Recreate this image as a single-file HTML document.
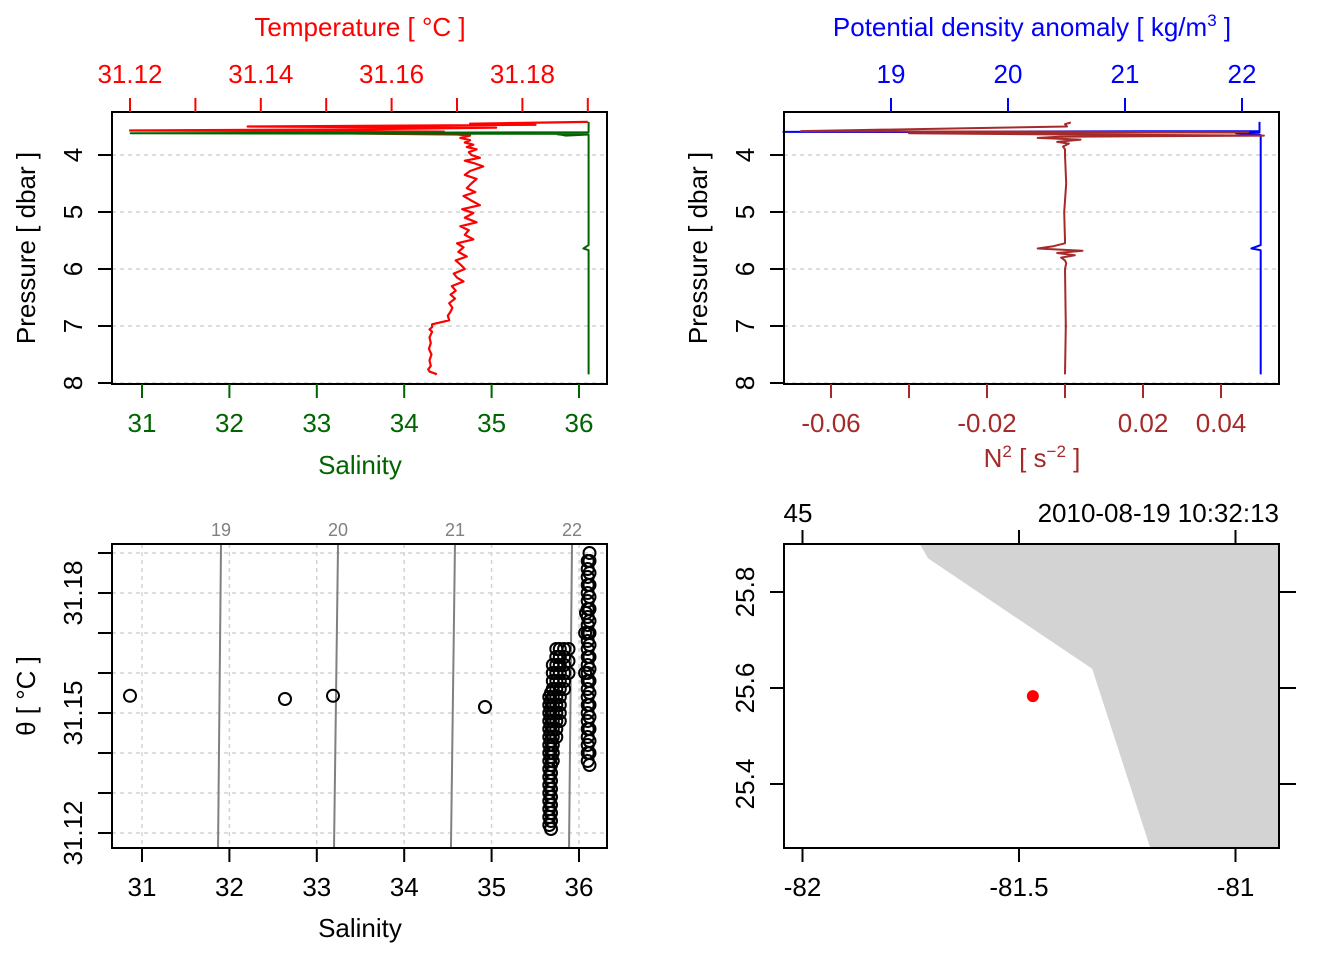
<!DOCTYPE html>
<html><head><meta charset="utf-8"><style>
html,body{margin:0;padding:0;background:#fff;}
svg{display:block;font-family:"Liberation Sans",Arial,sans-serif;}
</style></head><body>
<svg id="s" width="1344" height="960" viewBox="0 0 1344 960" xmlns="http://www.w3.org/2000/svg"></svg>
<script>
// ---------- data ----------
const tPres = [3.42,3.45,3.47,3.50,3.52,3.55,3.57,3.59,3.61,3.62,3.64,3.66,3.70,3.74,3.78,3.82,3.86,3.90,3.95,4.00,4.05,4.10,4.15,4.20,4.28,4.35,4.42,4.50,4.58,4.65,4.72,4.80,4.88,4.95,5.02,5.10,5.18,5.25,5.32,5.40,5.48,5.55,5.62,5.70,5.78,5.85,5.92,6.00,6.08,6.15,6.22,6.30,6.38,6.45,6.52,6.60,6.68,6.75,6.82,6.90,6.97,7.02,7.06,7.10,7.20,7.30,7.40,7.50,7.60,7.70,7.76,7.80,7.84,7.85];
const tempVals = [31.190,31.172,31.182,31.138,31.176,31.155,31.120,31.168,31.140,31.152,31.170,31.172,31.1705,31.1720,31.1712,31.1725,31.1715,31.1730,31.1718,31.1722,31.1735,31.1712,31.1728,31.1740,31.1720,31.1712,31.1730,31.1722,31.1715,31.1728,31.1710,31.1722,31.1735,31.1708,31.1725,31.1712,31.1730,31.1705,31.1718,31.1712,31.1725,31.1700,31.1710,31.1702,31.1715,31.1698,31.1705,31.1712,31.1695,31.1700,31.1710,31.1692,31.1698,31.1690,31.1697,31.1688,31.1693,31.1690,31.1686,31.1688,31.1662,31.1662,31.1658,31.1662,31.1658,31.1660,31.1657,31.1661,31.1658,31.1660,31.1656,31.1658,31.1668,31.1666];
const sPres = [3.42,3.60,3.62,3.63,3.635,3.645,3.66,3.65,3.64,3.64,5.58,5.64,5.67,5.70,7.85];
const salVals = [36.11,36.11,30.87,36.10,35.75,35.80,35.85,36.0,36.11,36.11,36.11,36.05,36.11,36.11,36.11];
const nPres = [3.43,3.46,3.50,3.58,3.60,3.62,3.64,3.66,3.68,3.70,3.73,3.77,3.80,3.85,3.90,4.00,4.50,5.00,5.50,5.55,5.60,5.64,5.68,5.72,5.76,5.80,5.85,5.90,6.00,7.00,7.85];
const n2Vals = [0.0015,0.0,0.0005,-0.0677,0.047,-0.040,0.0,0.051,-0.0015,-0.007,0.004,-0.002,0.001,-0.0005,0.0,0.0,0.0003,-0.0002,0.0,0.0,-0.003,-0.007,0.0045,-0.002,0.0025,-0.001,0.0,0.0003,0.0,0.0002,0.0];
const dPres = [3.42,3.58,3.595,3.605,3.62,3.63,3.635,3.645,3.65,5.58,5.64,5.67,5.70,7.85];
const sigVals = [22.15,22.15,18.08,22.15,21.95,22.05,21.98,22.15,22.16,22.16,22.08,22.16,22.16,22.16];
// TS diagram
const tsSal = [30.863,32.636,33.185,34.924,
35.66,35.66,35.66,35.66,35.66,35.66,35.66,35.66,35.66,35.66,35.66,35.66,35.66,35.66,35.66,35.66,35.66,
35.68,35.68,35.68,35.68,35.68,35.68,35.68,35.68,35.68,35.68,35.68,35.68,35.68,35.68,35.68,35.68,35.68,35.68,
35.70,35.70,35.70,35.70,35.70,35.70,35.70,35.70,35.70,35.70,35.70,35.70,35.70,
35.74,35.74,35.74,35.74,35.74,35.74,35.74,35.74,35.74,35.74,35.74,35.74,
35.78,35.78,35.78,35.78,35.78,35.78,35.78,35.78,35.78,35.78,
35.83,35.83,35.83,35.83,35.83,35.83,
35.88,35.88,35.88,
36.10,36.10,36.10,36.10,36.10,36.10,36.10,36.10,36.10,36.10,36.10,36.10,36.10,36.10,36.10,36.10,36.10,36.10,36.10,36.10,36.10,36.10,36.10,36.10,36.10,36.10,
36.12,36.12,36.12,36.12,36.12,36.12,36.12,36.12,36.12,36.12,36.12,36.12,36.12,36.12,36.12,36.12,36.12,36.12,36.12,
36.07,36.07,36.08];
const tsTheta = [31.1543,31.1535,31.1543,31.1515,
31.122,31.124,31.126,31.128,31.130,31.132,31.134,31.136,31.138,31.140,31.142,31.144,31.146,31.148,31.150,31.152,31.154,
31.121,31.123,31.125,31.127,31.129,31.131,31.133,31.135,31.137,31.139,31.141,31.143,31.145,31.147,31.149,31.151,31.153,31.155,
31.138,31.140,31.142,31.144,31.146,31.148,31.150,31.152,31.154,31.156,31.158,31.160,31.162,
31.144,31.146,31.148,31.150,31.152,31.154,31.156,31.158,31.160,31.162,31.164,31.166,
31.148,31.150,31.152,31.154,31.156,31.158,31.160,31.162,31.164,31.166,
31.156,31.158,31.160,31.162,31.164,31.166,
31.160,31.163,31.166,
31.138,31.140,31.142,31.144,31.146,31.148,31.150,31.152,31.154,31.156,31.158,31.160,31.162,31.164,31.166,31.168,31.170,31.172,31.174,31.176,31.178,31.180,31.182,31.184,31.186,31.188,
31.137,31.140,31.143,31.146,31.149,31.152,31.155,31.158,31.161,31.164,31.167,31.170,31.173,31.176,31.179,31.182,31.185,31.188,31.190,
31.160,31.170,31.175];
const isoLevels = [19,20,21,22];
const isoSalTop = [31.904,33.243,34.581,35.92];
const isoSalBottom = [31.870,33.197,34.535,35.886];
// map
const coastLon = [-81.729,-81.710,-81.331,-81.197,-80.90,-80.90];
const coastLat = [25.90,25.87,25.64,25.267,25.267,25.90];
const stationLon = [-81.468];
const stationLat = [25.583];
const salTicks = [31,32,33,34,35,36];
const tempTicks = [31.12,31.13,31.14,31.15,31.16,31.17,31.18,31.19];
const tempLabels = ["31.12","","31.14","","31.16","","31.18",""];
const presTicks = [4,5,6,7,8];
const sigTicks = [19,20,21,22];
const n2Ticks = [-0.06,-0.04,-0.02,0,0.02,0.04];
const n2Labels = ["-0.06","","-0.02","","0.02","0.04"];
const thetaTicks = [31.12,31.13,31.14,31.15,31.16,31.17,31.18,31.19];
const thetaLabels = ["31.12","","","31.15","","","31.18",""];
const lonTicks = [-82,-81.5,-81];
const latTicks = [25.4,25.6,25.8];

// ---------- helpers ----------
const S = document.getElementById('s');
const NS = 'http://www.w3.org/2000/svg';
function mk(tag, attrs, parent){const e=document.createElementNS(NS,tag);for(const k in attrs)e.setAttribute(k,attrs[k]);(parent||S).appendChild(e);return e;}
function txt(x,y,str,size,fill,anchor,rot,name){
  const t=mk('text',{x:x,y:y,'font-size':size,fill:fill,'text-anchor':anchor||'middle','dominant-baseline':'central'});
  if(rot) t.setAttribute('transform','rotate(-90 '+x+' '+y+')');
  t.textContent=str;
  
  
  return t;
}
function poly(pts,stroke,w,name,fill){
  const p=mk('polyline',{points:pts.map(q=>q[0].toFixed(1)+','+q[1].toFixed(1)).join(' '),fill:fill||'none',stroke:stroke,'stroke-width':w,'stroke-linejoin':'round'});
  
  
  return p;
}
function line(x1,y1,x2,y2,stroke,w,dash,name){
  const l=mk('line',{x1:x1,y1:y1,x2:x2,y2:y2,stroke:stroke,'stroke-width':w});
  if(dash) l.setAttribute('stroke-dasharray',dash);
  
  
  return l;
}
function box(x0,y0,x1,y1,name){
  const r=mk('rect',{x:x0,y:y0,width:x1-x0,height:y1-y0,fill:'none',stroke:'#000','stroke-width':2});
  
  
}
const FS = 26;
const GRID='#d3d3d3';

// ---------- panel 1 ----------
const p1 = {x0:112,x1:607,y0:112,y1:384};
const salX = v => 142 + (v-31)*87.4;
const tempX = v => 130 + (v-31.12)*6540;
const presY = v => 155 + (v-4)*57;
presTicks.forEach(p=>line(p1.x0,presY(p),p1.x1,presY(p),GRID,1.5,'4,4','pressure-gridline'));
poly(tPres.map((p,i)=>[tempX(tempVals[i]),presY(p)]),'#ff0000',2.2,'temperature-profile');
poly(sPres.map((p,i)=>[salX(salVals[i]),presY(p)]),'#006400',2,'salinity-profile');
box(p1.x0,p1.y0,p1.x1,p1.y1,'temp-sal-plot-frame');
presTicks.forEach(p=>{line(p1.x0-14,presY(p),p1.x0,presY(p),'#000',2,null,'pressure-tick');txt(73,presY(p),String(p),FS,'#000','middle',true,'pressure-tick-label');});
txt(26,248,'Pressure [ dbar ]',FS,'#000','middle',true,'pressure-axis-title');
salTicks.forEach(v=>{line(salX(v),p1.y1,salX(v),p1.y1+14,'#006400',2,null,'salinity-tick');txt(salX(v),423,String(v),FS,'#006400','middle',false,'salinity-tick-label');});
txt(360,465,'Salinity',FS,'#006400','middle',false,'salinity-axis-title');
tempTicks.forEach((v,i)=>{line(tempX(v),p1.y0-14,tempX(v),p1.y0,'#ff0000',2,null,'temperature-tick');if(tempLabels[i])txt(tempX(v),74,tempLabels[i],FS,'#ff0000','middle',false,'temperature-tick-label');});
txt(360,27,'Temperature [ °C ]',FS,'#ff0000','middle',false,'temperature-axis-title');

// ---------- panel 2 ----------
const p2 = {x0:784,x1:1279,y0:112,y1:384};
const n2X = v => 1065 + v*3900;
const sigX = v => 891 + (v-19)*117;
presTicks.forEach(p=>line(p2.x0,presY(p),p2.x1,presY(p),GRID,1.5,'4,4','pressure-gridline'));
poly(dPres.map((p,i)=>[sigX(sigVals[i]),presY(p)]),'#0000ff',2,'density-profile');
poly(nPres.map((p,i)=>[n2X(n2Vals[i]),presY(p)]),'#a52a2a',2,'n2-profile');
box(p2.x0,p2.y0,p2.x1,p2.y1,'density-plot-frame');
presTicks.forEach(p=>{line(p2.x0-14,presY(p),p2.x0,presY(p),'#000',2,null,'pressure-tick');txt(745,presY(p),String(p),FS,'#000','middle',true,'pressure-tick-label');});
txt(698,248,'Pressure [ dbar ]',FS,'#000','middle',true,'pressure-axis-title-right');
n2Ticks.forEach((v,i)=>{line(n2X(v),p2.y1,n2X(v),p2.y1+14,'#a52a2a',2,null,'n2-tick');if(n2Labels[i])txt(n2X(v),423,n2Labels[i],FS,'#a52a2a','middle',false,'n2-tick-label');});
{const t=mk('text',{x:1032,y:467,'font-size':FS,fill:'#a52a2a','text-anchor':'middle'});t.innerHTML='N<tspan dy="-10" font-size="17">2</tspan><tspan dy="10"> [ s</tspan><tspan dy="-10" font-size="17">−2</tspan><tspan dy="10"> ]</tspan>';
}
sigTicks.forEach(v=>{line(sigX(v),p2.y0-14,sigX(v),p2.y0,'#0000ff',2,null,'density-tick');txt(sigX(v),74,String(v),FS,'#0000ff','middle',false,'density-tick-label');});
{const t=mk('text',{x:1032,y:36,'font-size':FS,fill:'#0000ff','text-anchor':'middle'});t.innerHTML='Potential density anomaly [ kg/m<tspan dy="-10" font-size="17">3</tspan><tspan dy="10"> ]</tspan>';
}

// ---------- panel 3 ----------
const p3 = {x0:112,x1:607,y0:544,y1:848};
const thY = v => 833 - (v-31.12)*4000;
thetaTicks.forEach(v=>line(p3.x0,thY(v),p3.x1,thY(v),GRID,1.5,'4,4','theta-gridline'));
salTicks.forEach(v=>line(salX(v),p3.y0,salX(v),p3.y1,GRID,1.5,'4,4','salinity-gridline'));
isoLevels.forEach((lv,i)=>{line(salX(isoSalTop[i]),p3.y0,salX(isoSalBottom[i]),p3.y1,'#808080',2,null,'isopycnal-'+lv);txt(salX(isoSalTop[i]),530,String(lv),18,'#808080','middle',false,'isopycnal-label');});
tsSal.forEach((s,i)=>{const c=mk('circle',{cx:salX(s).toFixed(1),cy:thY(tsTheta[i]).toFixed(1),r:6,fill:'none',stroke:'#000','stroke-width':2});

});
box(p3.x0,p3.y0,p3.x1,p3.y1,'ts-plot-frame');
salTicks.forEach(v=>{line(salX(v),p3.y1,salX(v),p3.y1+14,'#000',2,null,'salinity-tick');txt(salX(v),887,String(v),FS,'#000','middle',false,'salinity-tick-label');});
txt(360,928,'Salinity',FS,'#000','middle',false,'ts-salinity-axis-title');
thetaTicks.forEach((v,i)=>{line(p3.x0-14,thY(v),p3.x0,thY(v),'#000',2,null,'theta-tick');if(thetaLabels[i])txt(73,thY(v),thetaLabels[i],FS,'#000','middle',true,'theta-tick-label');});
txt(26,696,'θ [ °C ]',FS,'#000','middle',true,'theta-axis-title');

// ---------- panel 4 ----------
const p4 = {x0:784,x1:1279,y0:544,y1:848};
const lonX = v => 1019 + (v+81.5)*433;
const latY = v => 688 - (v-25.6)*480;
poly(coastLon.map((v,i)=>[lonX(v),latY(coastLat[i])]),'none',0,'land-polygon','#d3d3d3');
{const c=mk('circle',{cx:lonX(stationLon[0]),cy:latY(stationLat[0]),r:6,fill:'#ff0000'});}
box(p4.x0,p4.y0,p4.x1,p4.y1,'map-frame');
lonTicks.forEach(v=>{line(lonX(v),p4.y1,lonX(v),p4.y1+14,'#000',2,null,'longitude-tick');txt(lonX(v),887,String(v),FS,'#000','middle',false,'longitude-tick-label');
line(lonX(v),p4.y0-14,lonX(v),p4.y0,'#000',2,null,'top-tick');});
latTicks.forEach(v=>{line(p4.x0-14,latY(v),p4.x0,latY(v),'#000',2,null,'latitude-tick');txt(745,latY(v),v.toFixed(1),FS,'#000','middle',true,'latitude-tick-label');
line(p4.x1,latY(v),p4.x1+17,latY(v),'#000',2,null,'latitude-tick-right');});
txt(798,513,'45',FS,'#000','middle',false,'longitude-header');
txt(1279,513,'2010-08-19 10:32:13',FS,'#000','end',false,'station-time');
</script>
</body></html>
